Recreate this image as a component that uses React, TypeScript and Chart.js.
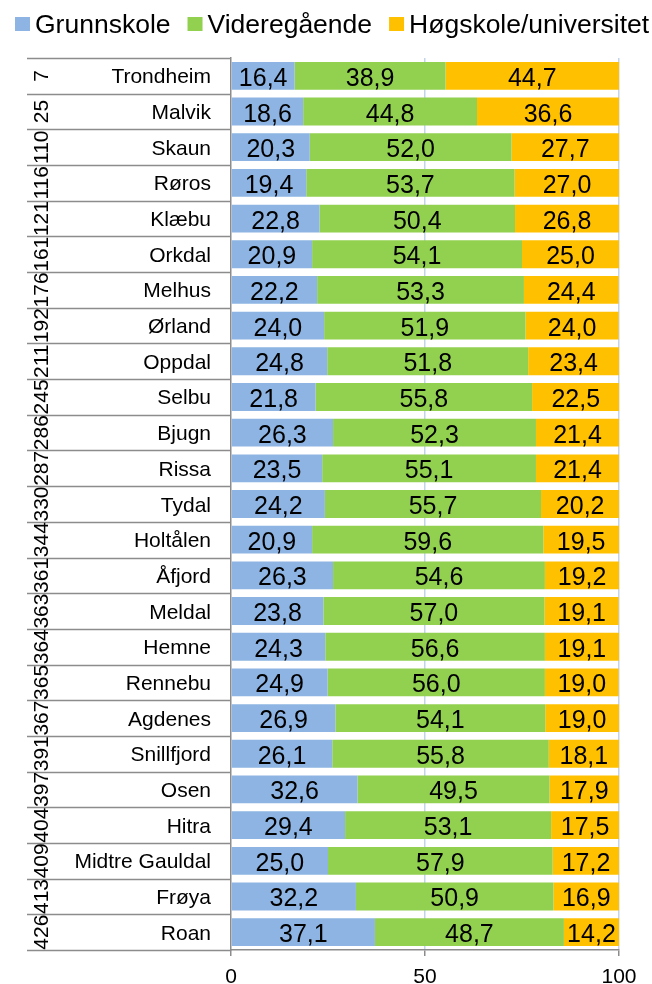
import React, { useEffect, useRef } from "react";
import { Chart, registerables } from "chart.js";

Chart.register(...registerables);

const ranks = ["7", "25", "110", "116", "121", "161", "176", "192", "211", "245", "286", "287", "330", "344", "361", "363", "364", "365", "367", "391", "397", "404", "409", "413", "426"];
const names = ["Trondheim", "Malvik", "Skaun", "Røros", "Klæbu", "Orkdal", "Melhus", "Ørland", "Oppdal", "Selbu", "Bjugn", "Rissa", "Tydal", "Holtålen", "Åfjord", "Meldal", "Hemne", "Rennebu", "Agdenes", "Snillfjord", "Osen", "Hitra", "Midtre Gauldal", "Frøya", "Roan"];
const grunnskole = [16.4, 18.6, 20.3, 19.4, 22.8, 20.9, 22.2, 24.0, 24.8, 21.8, 26.3, 23.5, 24.2, 20.9, 26.3, 23.8, 24.3, 24.9, 26.9, 26.1, 32.6, 29.4, 25.0, 32.2, 37.1];
const videregaende = [38.9, 44.8, 52.0, 53.7, 50.4, 54.1, 53.3, 51.9, 51.8, 55.8, 52.3, 55.1, 55.7, 59.6, 54.6, 57.0, 56.6, 56.0, 54.1, 55.8, 49.5, 53.1, 57.9, 50.9, 48.7];
const hogskole = [44.7, 36.6, 27.7, 27.0, 26.8, 25.0, 24.4, 24.0, 23.4, 22.5, 21.4, 21.4, 20.2, 19.5, 19.2, 19.1, 19.1, 19.0, 19.0, 18.1, 17.9, 17.5, 17.2, 16.9, 14.2];
const seriesNames = ["Grunnskole", "Videregående", "Høgskole/universitet"];
const seriesColors = ["#8DB4E2", "#92D050", "#FFC000"];
const xTicks = [0, 50, 100];

const FONT = '"Liberation Sans", Arial, sans-serif';
const AXIS_GRAY = "#8C8C8C";

const labelsPlugin = {
  id: "customLabels",
  afterDraw(chart: any) {
    const ctx = chart.ctx;
    const yScale = chart.scales.y;
    const area = chart.chartArea;
    const n = names.length;
    const pitch = (area.bottom - area.top) / n;

    ctx.save();
    // separators
    ctx.strokeStyle = AXIS_GRAY;
    ctx.lineWidth = 1.5;
    for (let i = 0; i <= n; i++) {
      const y = Math.round(area.top + i * pitch) + 0.5;
      ctx.beginPath();
      ctx.moveTo(27, y);
      ctx.lineTo(area.left, y);
      ctx.stroke();
    }
    // names
    ctx.fillStyle = "#000";
    ctx.font = `21px ${FONT}`;
    ctx.textAlign = "right";
    ctx.textBaseline = "alphabetic";
    names.forEach((nm, i) => {
      const yc = yScale.getPixelForValue(i);
      ctx.fillText(nm, 211, yc + 7.5);
    });
    // ranks rotated
    ranks.forEach((r, i) => {
      const yc = yScale.getPixelForValue(i);
      ctx.save();
      ctx.translate(47.5, yc);
      ctx.rotate(-Math.PI / 2);
      ctx.textAlign = "center";
      ctx.textBaseline = "alphabetic";
      ctx.fillText(r, 0, 0);
      ctx.restore();
    });

    // data labels
    ctx.font = `25px ${FONT}`;
    ctx.textAlign = "center";
    chart.data.datasets.forEach((ds: any, di: number) => {
      const meta = chart.getDatasetMeta(di);
      meta.data.forEach((el: any, i: number) => {
        const v = ds.data[i];
        const x = (el.x + el.base) / 2;
        ctx.fillText(v.toFixed(1).replace(".", ","), x, el.y + 10);
      });
    });

    // legend
    ctx.font = `26.5px ${FONT}`;
    ctx.textAlign = "left";
    let x = 15;
    seriesNames.forEach((s, i) => {
      ctx.fillStyle = seriesColors[i];
      ctx.fillRect(x, 17, 15, 14);
      ctx.fillStyle = "#000";
      ctx.fillText(s, x + 20, 33);
      x += 20 + ctx.measureText(s).width + 17;
    });
    ctx.restore();
  },
};

export default function App() {
  const ref = useRef<HTMLCanvasElement | null>(null);
  useEffect(() => {
    if (!ref.current) return;
    const chart = new Chart(ref.current, {
      type: "bar",
      data: {
        labels: names,
        datasets: [grunnskole, videregaende, hogskole].map((d, i) => ({
          label: seriesNames[i],
          data: d,
          backgroundColor: seriesColors[i],
          borderWidth: 0,
          categoryPercentage: 1,
          barPercentage: 0.78,
        })),
      },
      options: {
        indexAxis: "y",
        responsive: false,
        animation: false,
        devicePixelRatio: 1,
        layout: { padding: { top: 58, right: 33, left: 0, bottom: 0 } },
        plugins: { legend: { display: false }, tooltip: { enabled: false } },
        scales: {
          x: {
            type: "linear",
            stacked: true,
            min: 0,
            max: 100,
            afterBuildTicks(scale: any) {
              scale.ticks = xTicks.map((v) => ({ value: v }));
            },
            afterFit(scale: any) {
              scale.height = 34;
            },
            ticks: {
              font: { family: FONT, size: 21 },
              color: "#000",
              padding: 9,
              maxRotation: 0,
            },
            grid: {
              color: (c: any) => (c.tick && c.tick.value === 0 ? "rgba(0,0,0,0)" : "#C3D4EA"),
              tickColor: AXIS_GRAY,
              tickLength: 6,
              lineWidth: 1.5,
            },
            border: { display: true, color: AXIS_GRAY, width: 1.5 },
          },
          y: {
            type: "category",
            stacked: true,
            ticks: { display: false },
            grid: { display: false },
            border: { display: true, color: AXIS_GRAY, width: 1.5 },
            afterFit(scale: any) {
              scale.width = 231;
            },
          },
        },
      },
      plugins: [labelsPlugin],
    } as any);
    return () => chart.destroy();
  }, []);
  return (
    <div style={{ position: "absolute", left: 0, top: 0, width: 652, height: 984, background: "#fff" }}>
      <canvas ref={ref} width={652} height={984} style={{ display: "block", width: 652, height: 984 }} />
    </div>
  );
}
